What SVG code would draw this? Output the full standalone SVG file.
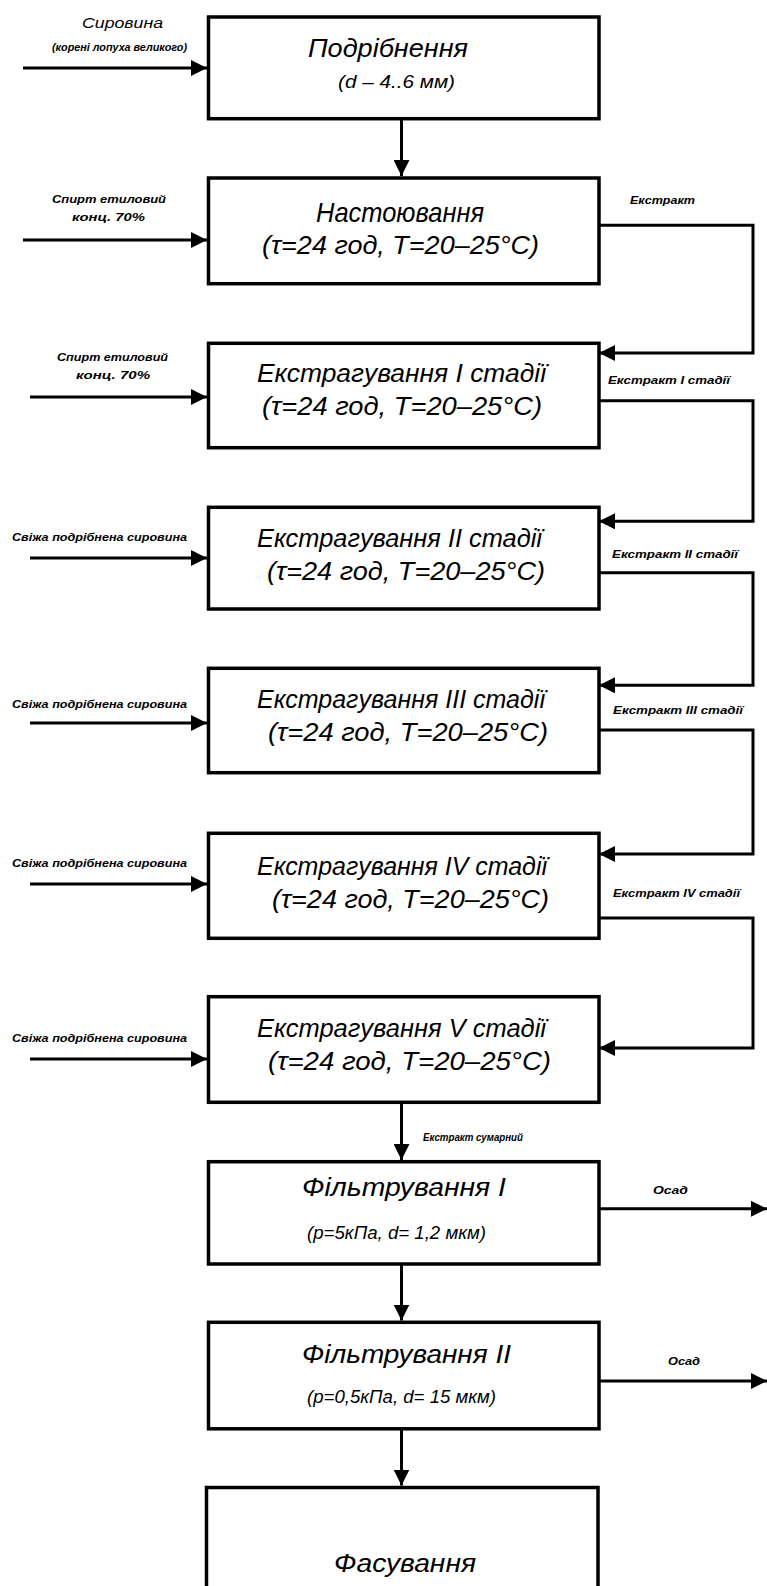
<svg xmlns="http://www.w3.org/2000/svg" width="767" height="1586" viewBox="0 0 767 1586">
<style>
.box{fill:#fff;stroke:#000;stroke-width:3.5}
.ln{fill:none;stroke:#000;stroke-width:3}
.t{font-family:"Liberation Sans",Arial,sans-serif;font-style:italic;fill:#000;font-size:26px}
.t2{font-family:"Liberation Sans",Arial,sans-serif;font-style:italic;fill:#000;font-size:18px}
.s{font-family:"Liberation Sans",Arial,sans-serif;font-style:italic;font-weight:bold;fill:#000;font-size:10px}
</style>
<defs>
<marker id="arr" markerUnits="userSpaceOnUse" markerWidth="16" markerHeight="16" refX="16" refY="8" orient="auto">
<path d="M0,0 L16,8 L0,16 z" fill="#000"/>
</marker>
</defs>
<rect width="767" height="1586" fill="#fff"/>

<g id="connectors">
<path class="ln" d="M23,68 H207" marker-end="url(#arr)"/>
<path class="ln" d="M23,240 H207" marker-end="url(#arr)"/>
<path class="ln" d="M30,397 H207" marker-end="url(#arr)"/>
<path class="ln" d="M30,558 H207" marker-end="url(#arr)"/>
<path class="ln" d="M30,723 H207" marker-end="url(#arr)"/>
<path class="ln" d="M30,884 H207" marker-end="url(#arr)"/>
<path class="ln" d="M30,1059 H207" marker-end="url(#arr)"/>
<path class="ln" d="M401.5,119 V176" marker-end="url(#arr)"/>
<path class="ln" d="M599,225.3 H753 V353 H599" marker-end="url(#arr)"/>
<path class="ln" d="M599,400.7 H753 V521.3 H599" marker-end="url(#arr)"/>
<path class="ln" d="M599,572.7 H753 V685.3 H599" marker-end="url(#arr)"/>
<path class="ln" d="M599,730 H753 V854 H599" marker-end="url(#arr)"/>
<path class="ln" d="M599,918 H753 V1048 H599" marker-end="url(#arr)"/>
<path class="ln" d="M401.5,1102.5 V1160" marker-end="url(#arr)"/>
<path class="ln" d="M401.5,1264 V1320.5" marker-end="url(#arr)"/>
<path class="ln" d="M401.5,1429 V1485.5" marker-end="url(#arr)"/>
<path class="ln" d="M599,1208.8 H767" marker-end="url(#arr)"/>
<path class="ln" d="M599,1381 H767" marker-end="url(#arr)"/>
<text class="s" x="630" y="204" textLength="65" lengthAdjust="spacingAndGlyphs">Екстракт</text>
<text class="s" x="608" y="384" textLength="122" lengthAdjust="spacingAndGlyphs">Екстракт I стадії</text>
<text class="s" x="612" y="558" textLength="126" lengthAdjust="spacingAndGlyphs">Екстракт II стадії</text>
<text class="s" x="613" y="714" textLength="130" lengthAdjust="spacingAndGlyphs">Екстракт III стадії</text>
<text class="s" x="613" y="897" textLength="127" lengthAdjust="spacingAndGlyphs">Екстракт IV стадії</text>
<text class="s" x="423" y="1141" textLength="100" lengthAdjust="spacingAndGlyphs">Екстракт сумарний</text>
<text class="s" x="653" y="1194" textLength="35" lengthAdjust="spacingAndGlyphs">Осад</text>
<text class="s" x="668" y="1365" textLength="32" lengthAdjust="spacingAndGlyphs">Осад</text>
</g>

<g id="in1">
<text class="s" x="82" y="28" style="font-size:14px;font-weight:normal" textLength="81" lengthAdjust="spacingAndGlyphs">Сировина</text>
<text class="s" x="52" y="51" textLength="135" lengthAdjust="spacingAndGlyphs">(корені лопуха великого)</text>
</g>
<g id="in2">
<text class="s" x="52" y="203" textLength="114" lengthAdjust="spacingAndGlyphs">Спирт етиловий</text>
<text class="s" x="72" y="221" textLength="73" lengthAdjust="spacingAndGlyphs">конц. 70%</text>
</g>
<g id="in3">
<text class="s" x="57" y="361" textLength="111" lengthAdjust="spacingAndGlyphs">Спирт етиловий</text>
<text class="s" x="76" y="379" textLength="74" lengthAdjust="spacingAndGlyphs">конц. 70%</text>
</g>
<g id="in4"><text class="s" x="12" y="541" textLength="175" lengthAdjust="spacingAndGlyphs">Свіжа подрібнена сировина</text></g>
<g id="in5"><text class="s" x="12" y="708" textLength="175" lengthAdjust="spacingAndGlyphs">Свіжа подрібнена сировина</text></g>
<g id="in6"><text class="s" x="12" y="867" textLength="175" lengthAdjust="spacingAndGlyphs">Свіжа подрібнена сировина</text></g>
<g id="in7"><text class="s" x="12" y="1042" textLength="175" lengthAdjust="spacingAndGlyphs">Свіжа подрібнена сировина</text></g>

<g id="n1">
<rect class="box" x="208.5" y="17" width="390.5" height="101.7"/>
<text class="t" x="308" y="57" textLength="160" lengthAdjust="spacingAndGlyphs">Подрібнення</text>
<text class="t2" x="338" y="88" textLength="117" lengthAdjust="spacingAndGlyphs">(d – 4..6 мм)</text>
</g>
<g id="n2">
<rect class="box" x="208.5" y="178" width="390.5" height="105.7"/>
<text class="t" x="316" y="222" style="font-size:28px" textLength="168" lengthAdjust="spacingAndGlyphs">Настоювання</text>
<text class="t" x="262" y="254" textLength="277" lengthAdjust="spacingAndGlyphs">(τ=24 год, T=20–25°С)</text>
</g>
<g id="n3">
<rect class="box" x="208.5" y="343.3" width="390.5" height="104.4"/>
<text class="t" x="257" y="382" textLength="289" lengthAdjust="spacingAndGlyphs">Екстрагування I стадії</text>
<text class="t" x="262" y="415" textLength="280" lengthAdjust="spacingAndGlyphs">(τ=24 год, T=20–25°С)</text>
</g>
<g id="n4">
<rect class="box" x="208.5" y="507.3" width="390.5" height="101.7"/>
<text class="t" x="257" y="547" textLength="285" lengthAdjust="spacingAndGlyphs">Екстрагування II стадії</text>
<text class="t" x="267" y="580" textLength="278" lengthAdjust="spacingAndGlyphs">(τ=24 год, T=20–25°С)</text>
</g>
<g id="n5">
<rect class="box" x="208.5" y="668.3" width="390.5" height="104.4"/>
<text class="t" x="257" y="708" textLength="288" lengthAdjust="spacingAndGlyphs">Екстрагування III стадії</text>
<text class="t" x="268" y="741" textLength="280" lengthAdjust="spacingAndGlyphs">(τ=24 год, T=20–25°С)</text>
</g>
<g id="n6">
<rect class="box" x="208.5" y="833.3" width="390.5" height="105"/>
<text class="t" x="257" y="875" textLength="290" lengthAdjust="spacingAndGlyphs">Екстрагування IV стадії</text>
<text class="t" x="272" y="908" textLength="277" lengthAdjust="spacingAndGlyphs">(τ=24 год, T=20–25°С)</text>
</g>
<g id="n7">
<rect class="box" x="208.5" y="996.7" width="390.5" height="105.6"/>
<text class="t" x="257" y="1037" textLength="289" lengthAdjust="spacingAndGlyphs">Екстрагування V стадії</text>
<text class="t" x="268" y="1070" textLength="283" lengthAdjust="spacingAndGlyphs">(τ=24 год, T=20–25°С)</text>
</g>
<g id="n8">
<rect class="box" x="208.5" y="1161.7" width="390.5" height="102.3"/>
<text class="t" x="302" y="1196" textLength="204" lengthAdjust="spacingAndGlyphs">Фільтрування I</text>
<text class="t2" x="307" y="1239" textLength="179" lengthAdjust="spacingAndGlyphs">(р=5кПа, d= 1,2 мкм)</text>
</g>
<g id="n9">
<rect class="box" x="208.5" y="1322.3" width="390.5" height="106.5"/>
<text class="t" x="302" y="1363" textLength="209" lengthAdjust="spacingAndGlyphs">Фільтрування II</text>
<text class="t2" x="307" y="1403" textLength="189" lengthAdjust="spacingAndGlyphs">(р=0,5кПа, d= 15 мкм)</text>
</g>
<g id="n10">
<rect class="box" x="206.5" y="1487.5" width="391.5" height="200"/>
<text class="t" x="334" y="1572" textLength="142" lengthAdjust="spacingAndGlyphs">Фасування</text>
</g>
</svg>
